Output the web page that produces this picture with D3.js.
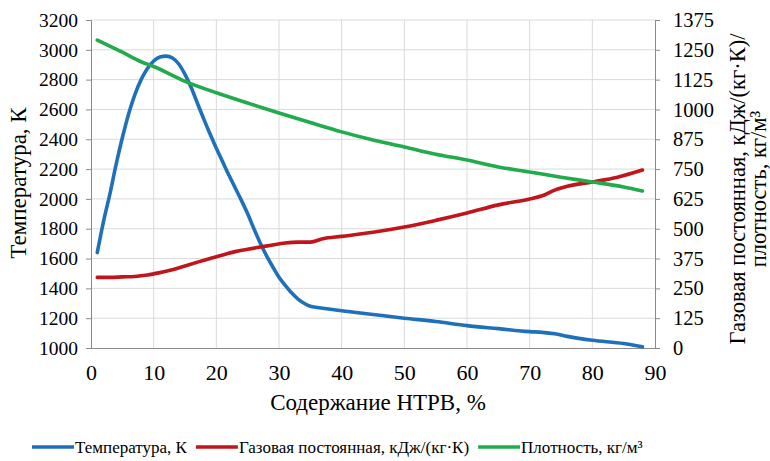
<!DOCTYPE html>
<html>
<head>
<meta charset="utf-8">
<script src="https://d3js.org/d3.v7.min.js"></script>
<style>
  body { margin: 0; background: #fff; }
</style>
</head>
<body>
<script>
'use strict';

(function () {

  // Содержание НТРВ, % (x) and the three series
  const tempX = [1, 2, 3, 4, 5, 6, 7, 8, 9, 10, 11, 12, 13, 14, 15, 16, 17, 18, 19, 20,
    21, 22, 23, 24, 25, 26, 27, 28, 29, 30, 31, 32, 33, 34, 35, 37, 40, 45, 50, 55,
    60, 65, 70, 72, 74, 76, 80, 85, 88];
  const tempY = [1640, 1850, 2030, 2230, 2410, 2570, 2700, 2800, 2875, 2925, 2952, 2958, 2945, 2905, 2835, 2745, 2640, 2535, 2435, 2340,
    2250, 2160, 2075, 1990, 1900, 1800, 1705, 1620, 1545, 1475, 1420, 1370, 1330, 1300, 1280, 1267, 1250, 1225, 1200, 1178,
    1150, 1130, 1110, 1105, 1095, 1078, 1052, 1030, 1008];

  const gasX = [1, 3, 5, 7, 9, 11, 13, 15, 17, 19, 21, 23, 25, 27, 29, 31, 33, 35, 37, 40,
    45, 50, 55, 60, 65, 70, 72, 74, 76, 80, 84, 88];
  const gasY = [296, 296, 298, 300, 306, 316, 328, 344, 360, 375, 390, 404, 414, 423, 432, 440, 444, 444, 458, 468,
    485, 507, 535, 566, 600, 625, 638, 662, 678, 696, 716, 746];

  const densX = [1, 5, 8, 10, 15, 20, 25, 30, 35, 40, 45, 50, 55, 60, 65, 70, 75, 80, 85, 88];
  const densY = [1291, 1240, 1200, 1180, 1118, 1070, 1027, 985, 945, 906, 872, 843, 812, 788, 759, 738, 716, 696, 675, 658];

  const xTicks = [0, 10, 20, 30, 40, 50, 60, 70, 80, 90];
  const leftTicks = [1000, 1200, 1400, 1600, 1800, 2000, 2200, 2400, 2600, 2800, 3000, 3200];
  const rightTicks = [0, 125, 250, 375, 500, 625, 750, 875, 1000, 1125, 1250, 1375];

  const seriesNames = ["Температура, К", "Газовая постоянная, кДж/(кг·К)", "Плотность, кг/м³"];
  const colors = ["#1f70bb", "#c0151b", "#22ab4c"];

  const serif = "'Liberation Serif', 'Times New Roman', serif";
  let svgContainer = "";

  window.onload = function () {
    svgContainer = d3.select('body')
      .append('svg')
      .attr('width', 770)
      .attr('height', 461);

    let map = drawAxes();
    plotData(map);
    makeLabels();
    createLegend();

    // every text in Times-like serif, as in the original
    svgContainer.selectAll('text')
      .style('font-family', serif)
      .attr('fill', '#000');
  }

  function drawAxes() {
    let xScale = d3.scaleLinear().domain([0, 90]).range([91, 655]);
    let yLeft = d3.scaleLinear().domain([1000, 3200]).range([348, 20]);
    let yRight = d3.scaleLinear().domain([0, 1375]).range([348, 20]);

    // gridlines
    let grid = svgContainer.append('g').attr('class', 'grid');
    grid.selectAll('.vgrid')
      .data(xTicks.slice(1, -1))
      .enter()
      .append('line')
      .attr('x1', d => xScale(d)).attr('x2', d => xScale(d))
      .attr('y1', 20).attr('y2', 348)
      .attr('stroke', '#dadada').attr('stroke-width', 1);
    grid.selectAll('.hgrid')
      .data(leftTicks.slice(1))
      .enter()
      .append('line')
      .attr('x1', 91).attr('x2', 655)
      .attr('y1', d => yLeft(d)).attr('y2', d => yLeft(d))
      .attr('stroke', '#dadada').attr('stroke-width', 1);

    let fmt = d3.format('d');

    let gx = svgContainer.append('g')
      .attr('transform', 'translate(0, 348)')
      .call(d3.axisBottom(xScale).tickValues(xTicks).tickFormat(fmt).tickSize(0).tickPadding(16));
    gx.selectAll('text').style('font-size', '22px');

    let gl = svgContainer.append('g')
      .attr('transform', 'translate(91, 0)')
      .call(d3.axisLeft(yLeft).tickValues(leftTicks).tickFormat(fmt).tickSize(5).tickPadding(8));
    gl.selectAll('text').style('font-size', '19.5px');

    let gr = svgContainer.append('g')
      .attr('transform', 'translate(655, 0)')
      .call(d3.axisRight(yRight).tickValues(rightTicks).tickFormat(fmt).tickSize(5).tickPadding(13));
    gr.selectAll('text').style('font-size', '20.5px');

    svgContainer.selectAll('.domain').attr('stroke', '#8a8a8a');
    svgContainer.selectAll('.tick line').attr('stroke', '#8a8a8a');

    return { x: xScale, yLeft: yLeft, yRight: yRight };
  }

  function plotData(map) {
    let sets = [
      { xs: tempX, ys: tempY, y: map.yLeft },
      { xs: gasX, ys: gasY, y: map.yRight },
      { xs: densX, ys: densY, y: map.yRight }
    ];
    sets.forEach(function (s, i) {
      let pts = s.xs.map((d, j) => [d, s.ys[j]]);
      let line = d3.line()
        .x(d => map.x(d[0]))
        .y(d => s.y(d[1]))
        .curve(d3.curveMonotoneX);
      svgContainer.append('path')
        .datum(pts)
        .attr('d', line)
        .attr('fill', 'none')
        .attr('stroke', colors[i])
        .attr('stroke-width', 3.6)
        .attr('stroke-linejoin', 'round')
        .attr('stroke-linecap', 'round');
    });
  }

  function makeLabels() {
    svgContainer.append('text')
      .attr('x', 378)
      .attr('y', 410)
      .attr('text-anchor', 'middle')
      .style('font-size', '23px')
      .text('Содержание НТРВ, %');

    svgContainer.append('text')
      .attr('transform', 'translate(26, 183)rotate(-90)')
      .attr('text-anchor', 'middle')
      .style('font-size', '23px')
      .text('Температура, К');

    svgContainer.append('text')
      .attr('transform', 'translate(745, 189)rotate(-90)')
      .attr('text-anchor', 'middle')
      .style('font-size', '22.5px')
      .text('Газовая постоянная, кДж/(кг·К)/');

    svgContainer.append('text')
      .attr('transform', 'translate(766, 189)rotate(-90)')
      .attr('text-anchor', 'middle')
      .style('font-size', '22.5px')
      .text('плотность, кг/м³');
  }

  function createLegend() {
    let legend = svgContainer.append('g');
    let x = 32;
    seriesNames.forEach(function (name, i) {
      legend.append('line')
        .attr('x1', x).attr('x2', x + 42)
        .attr('y1', 447).attr('y2', 447)
        .attr('stroke', colors[i])
        .attr('stroke-width', 3.6);
      let t = legend.append('text')
        .attr('x', x + 43)
        .attr('y', 453)
        .style('font-size', '17px')
        .style('font-family', serif)
        .text(name);
      x = x + 43 + t.node().getComputedTextLength() + 9;
    });
  }
})();
</script>
</body>
</html>
